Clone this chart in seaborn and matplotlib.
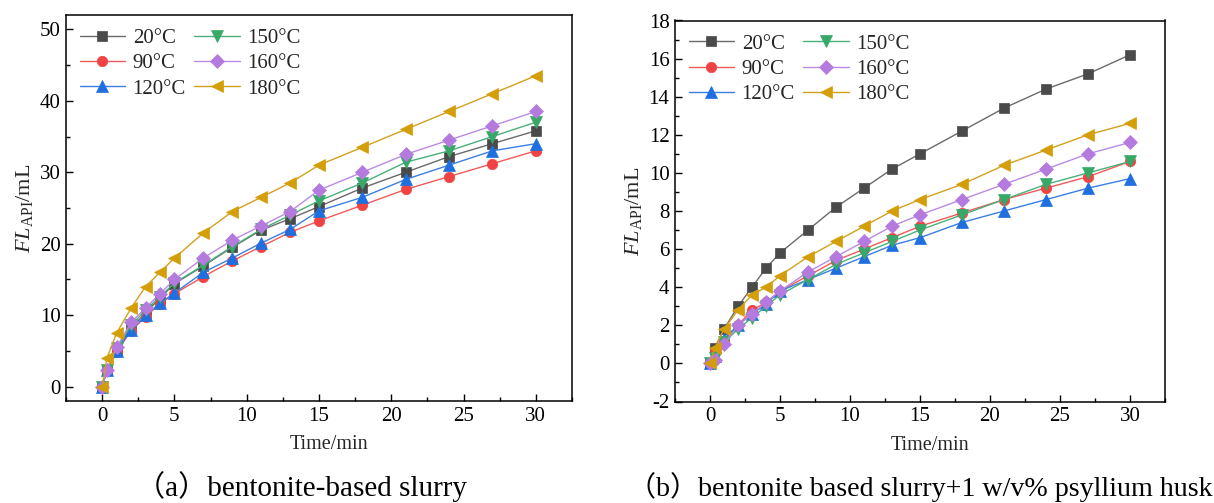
import numpy as np
import pandas as pd
import matplotlib
matplotlib.use("Agg")
import matplotlib.pyplot as plt
from matplotlib.ticker import MultipleLocator
import seaborn as sns

# Sampling times (min)
time_min = [0, 0.33, 1, 2, 3, 4, 5, 7, 9, 11, 13, 15, 18, 21, 24, 27, 30]
temps = ["20°C", "90°C", "120°C", "150°C", "160°C", "180°C"]

# (a) bentonite-based slurry, filtrate volume (mL)
fl_a_20 = [0, 2.4, 5.1, 8.2, 10.3, 12.4, 14.4, 16.9, 19.5, 21.9, 23.5, 25.2, 27.8, 30.0, 32.2, 34.0, 35.8]
fl_a_90 = [0, 2.2, 4.9, 7.8, 9.8, 11.6, 13.0, 15.4, 17.6, 19.6, 21.6, 23.2, 25.4, 27.6, 29.4, 31.2, 33.0]
fl_a_120 = [0, 2.4, 5.0, 7.9, 10.0, 11.7, 13.1, 16.0, 18.0, 20.1, 22.0, 24.6, 26.5, 29.0, 31.0, 33.0, 34.0]
fl_a_150 = [0, 2.4, 5.4, 8.6, 10.7, 12.6, 14.5, 17.0, 19.6, 22.0, 24.0, 26.0, 28.5, 31.4, 33.0, 35.0, 37.0]
fl_a_160 = [0, 2.4, 5.5, 9.0, 11.0, 13.0, 15.0, 18.0, 20.5, 22.5, 24.5, 27.5, 30.0, 32.5, 34.5, 36.5, 38.5]
fl_a_180 = [0, 4.0, 7.5, 11.0, 14.0, 16.0, 18.0, 21.5, 24.5, 26.5, 28.5, 31.0, 33.5, 36.0, 38.5, 41.0, 43.5]

# (b) bentonite slurry + 1 w/v% psyllium husk, filtrate volume (mL)
fl_b_20 = [0, 0.8, 1.8, 3.0, 4.0, 5.0, 5.8, 7.0, 8.2, 9.2, 10.2, 11.0, 12.2, 13.4, 14.4, 15.2, 16.2]
fl_b_90 = [0, 0.6, 1.2, 2.0, 2.8, 3.2, 3.8, 4.6, 5.4, 6.0, 6.6, 7.2, 7.9, 8.6, 9.2, 9.8, 10.6]
fl_b_120 = [0, 0.4, 1.3, 2.0, 2.6, 3.1, 3.8, 4.4, 5.0, 5.6, 6.2, 6.6, 7.4, 8.0, 8.6, 9.2, 9.7]
fl_b_150 = [0, 0.3, 1.1, 1.8, 2.4, 3.0, 3.6, 4.4, 5.2, 5.8, 6.4, 7.0, 7.8, 8.6, 9.4, 10.0, 10.6]
fl_b_160 = [0, 0.2, 1.0, 2.0, 2.6, 3.2, 3.8, 4.8, 5.6, 6.4, 7.2, 7.8, 8.6, 9.4, 10.2, 11.0, 11.6]
fl_b_180 = [0, 0.8, 1.8, 2.8, 3.6, 4.0, 4.6, 5.6, 6.4, 7.2, 8.0, 8.6, 9.4, 10.4, 11.2, 12.0, 12.6]

captions = ["（a）bentonite-based slurry",
            "（b）bentonite based slurry+1 w/v% psyllium husk"]

colors = ["#4a4a4a", "#f04444", "#1f6fe0", "#36a868", "#b47ade", "#d49e08"]
line_colors = ["#6a6a6a", "#f25a5a", "#3a7fe4", "#4ab07a", "#bb8ae2", "#d4a01c"]
markers = ["s", "o", "^", "v", "D", "<"]
marker_sizes = [7, 7.5, 8, 8, 7, 8]


def long_form(series):
    frames = []
    for t, vals in zip(temps, series):
        frames.append(pd.DataFrame({"time": time_min, "fl": vals, "temp": t}))
    return pd.concat(frames, ignore_index=True)


sns.set_theme(style="ticks")
plt.rcParams["font.family"] = ["Liberation Serif", "Noto Sans CJK SC"]
plt.rcParams["mathtext.fontset"] = "custom"
plt.rcParams["mathtext.rm"] = "Liberation Serif"
plt.rcParams["mathtext.it"] = "Liberation Serif:italic"
plt.rcParams["axes.unicode_minus"] = False

W, H = 1214, 503
fig = plt.figure(figsize=(W / 100, H / 100), dpi=100)


def px_axes(x0, y0, x1, y1):
    return fig.add_axes([x0 / W, 1 - y1 / H, (x1 - x0) / W, (y1 - y0) / H])


ax_a = px_axes(66, 15, 572, 401)
ax_b = px_axes(675, 20.5, 1165, 401.5)

data_a = long_form([fl_a_20, fl_a_90, fl_a_120, fl_a_150, fl_a_160, fl_a_180])
data_b = long_form([fl_b_20, fl_b_90, fl_b_120, fl_b_150, fl_b_160, fl_b_180])

for ax, df, ylim, ymaj, caption, cx, csize in [
    (ax_a, data_a, (-2, 52), 10, captions[0], 302, 21),
    (ax_b, data_b, (-2, 18), 2, captions[1], 920, 20.2),
]:
    for i, t in enumerate(temps):
        sub = df[df["temp"] == t]
        sns.lineplot(data=sub, x="time", y="fl", ax=ax, color=line_colors[i],
                     marker=markers[i], markersize=marker_sizes[i],
                     markerfacecolor=colors[i], markeredgecolor=colors[i],
                     markeredgewidth=0.5, linewidth=1.0, label=t)
    ax.set_xlim(-2.5, 32.5)
    ax.set_ylim(*ylim)
    ax.xaxis.set_major_locator(MultipleLocator(5))
    ax.xaxis.set_minor_locator(MultipleLocator(2.5))
    ax.yaxis.set_major_locator(MultipleLocator(ymaj))
    ax.yaxis.set_minor_locator(MultipleLocator(ymaj / 2))
    ax.tick_params(which="both", direction="in", top=False, right=False,
                   labelsize=15, width=1.0, colors="black")
    ax.tick_params(which="major", length=5, pad=4)
    ax.tick_params(which="minor", length=3)
    for sp in ax.spines.values():
        sp.set_visible(True)
        sp.set_linewidth(1.1)
        sp.set_color("black")
    ax.set_xlabel("Time/min", fontsize=14.5, labelpad=7)
    ax.xaxis.label.set_x(0.52)
    ax.set_ylabel(r"$\it{FL}_{\rm API}$/mL", fontsize=16, labelpad=3)
    ax.legend(ncol=2, loc="upper left", frameon=False, fontsize=15,
              handlelength=2.2, handletextpad=0.35, columnspacing=0.4,
              labelspacing=0.27, borderaxespad=0.25)
    fig.text(cx / W, 1 - 487 / H, caption, ha="center", va="center",
             fontsize=csize, color="black")

fig.savefig("out.png", dpi=100)
